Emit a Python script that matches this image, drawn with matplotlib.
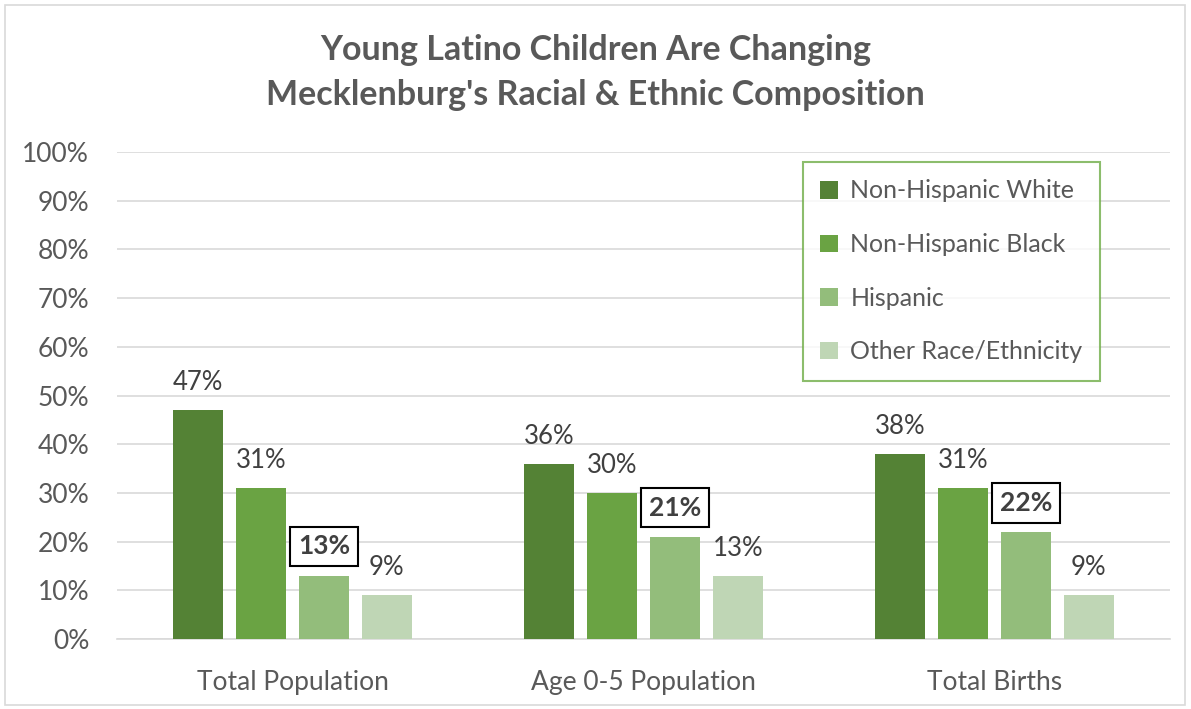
import matplotlib.pyplot as plt
import numpy as np
from matplotlib.patches import Rectangle

categories = ['Total Population', 'Age 0-5 Population', 'Total Births']
series = ['Non-Hispanic White', 'Non-Hispanic Black', 'Hispanic', 'Other Race/Ethnicity']
white = [47, 36, 38]
black = [31, 30, 31]
hispanic = [13, 21, 22]
other = [9, 13, 9]
values = [white, black, hispanic, other]
colors = ['#548235', '#6aa343', '#93bd7b', '#bfd6b5']

plt.rcParams['font.family'] = ['Lato', 'DejaVu Sans']
text_color = '#595959'

fig = plt.figure(figsize=(11.91, 7.09), dpi=100)
ax = fig.add_axes([117 / 1191, 1 - 639 / 709, 1053 / 1191, 487 / 709])

# chart border
fig.patches.append(Rectangle((5 / 1191, 4 / 709), 1180 / 1191, 700 / 709,
                             transform=fig.transFigure, fill=False,
                             edgecolor='#d9d9d9', linewidth=1.2))

x = np.arange(len(categories))
step = 0.179
width = 0.142
for i, (vals, col, name) in enumerate(zip(values, colors, series)):
    pos = x + (i - 1.5) * step
    ax.bar(pos, vals, width=width, color=col, label=name, zorder=3)
    for p, v in zip(pos, vals):
        if i == 2:
            ax.text(p, v + 6.0, f'{v}%', ha='center', va='center', fontsize=19,
                    fontweight='bold', color='#404040', zorder=4,
                    bbox=dict(boxstyle='square,pad=0.3', facecolor='white',
                              edgecolor='black', linewidth=1.5))
        else:
            ax.text(p, v + 5.6, f'{v}%', ha='center', va='center', fontsize=18.5,
                    color='#404040', zorder=4)

ax.set_xlim(-0.5, 2.5)
ax.set_ylim(0, 100)
ax.set_yticks(range(0, 101, 10))
ax.set_yticklabels([f'{t}%' for t in range(0, 101, 10)])
ax.set_xticks(x)
ax.set_xticklabels(categories)
ax.tick_params(axis='both', length=0, labelsize=19, colors=text_color)
ax.tick_params(axis='y', pad=20)
ax.tick_params(axis='x', pad=22)
ax.grid(axis='y', color='#d9d9d9', linewidth=1.2, zorder=0)
for s in ['top', 'right', 'left']:
    ax.spines[s].set_visible(False)
ax.spines['bottom'].set_color('#d9d9d9')
ax.spines['bottom'].set_linewidth(1.2)

leg = ax.legend(loc='upper right', bbox_to_anchor=(1100 / 1191, 1 - 162 / 709),
                bbox_transform=fig.transFigure, fontsize=18, frameon=True,
                fancybox=False, labelspacing=1.22, handlelength=0.7,
                handleheight=0.7, handletextpad=0.5, borderpad=0.7,
                borderaxespad=0)
leg.get_frame().set_edgecolor('#70ad47')
leg.get_frame().set_linewidth(1.5)
for t in leg.get_texts():
    t.set_color(text_color)

fig.text(0.5, 1 - 50 / 709, 'Young Latino Children Are Changing', ha='center',
         va='center', fontsize=24.5, fontweight='bold', color=text_color)
fig.text(0.5, 1 - 95 / 709, "Mecklenburg's Racial & Ethnic Composition",
         ha='center', va='center', fontsize=24.5, fontweight='bold', color=text_color)

fig.savefig('out.png', dpi=100)
